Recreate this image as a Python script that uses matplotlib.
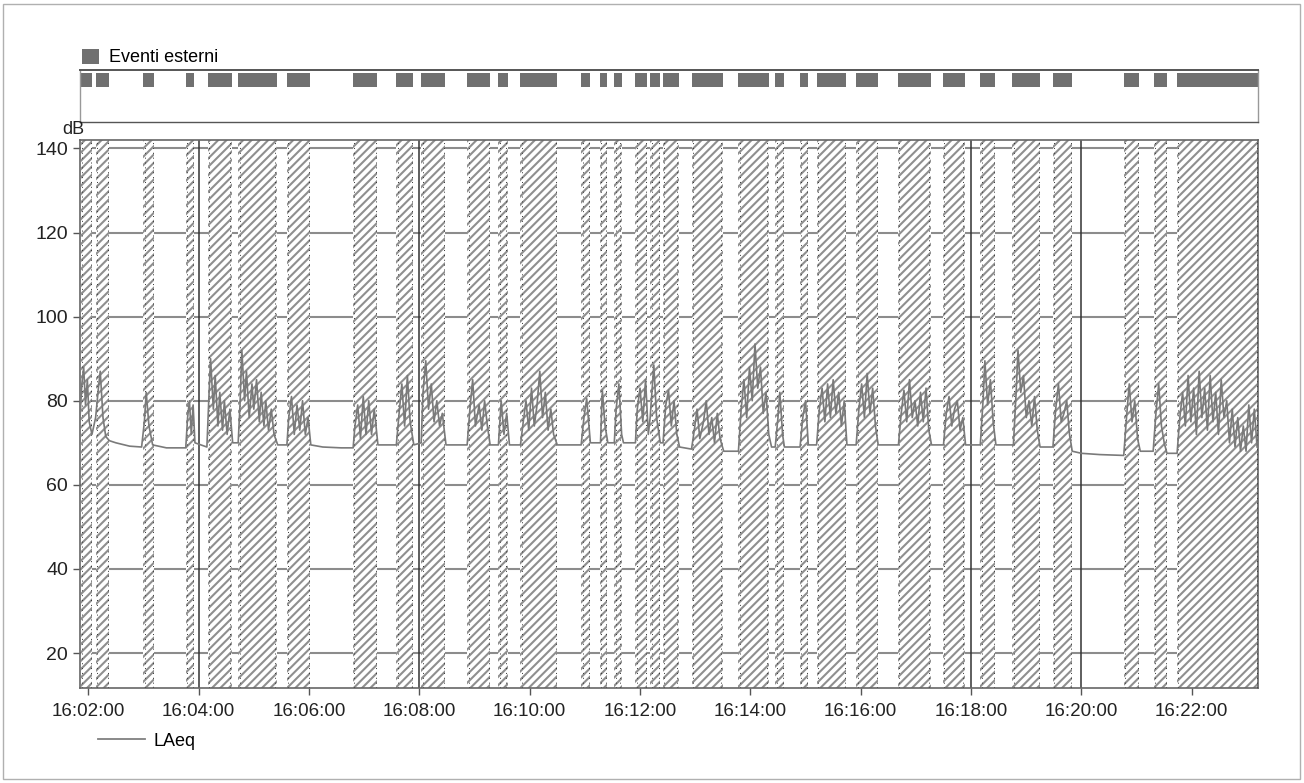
"""
LAeq time history with external events (Eventi esterni)
"""

import matplotlib
matplotlib.use("Agg")
import matplotlib.pyplot as plt
from matplotlib.patches import Patch, Rectangle
from matplotlib.lines import Line2D
from matplotlib.ticker import FuncFormatter

plt.rcParams['font.family'] = ['Liberation Sans', 'DejaVu Sans']
plt.rcParams['hatch.linewidth'] = 1.5

# seconds after 16:00:00
ev_start = [112, 128, 180, 226, 250, 283, 336, 408, 455, 482, 532, 566, 590, 656,
            676, 692, 715, 731, 745, 776, 827, 867, 894, 912, 955, 1000, 1049, 1090,
            1125, 1169, 1246, 1279, 1304]
ev_end = [124, 143, 192, 235, 276, 325, 361, 434, 473, 508, 557, 576, 630, 666,
          684, 700, 728, 742, 762, 810, 860, 877, 903, 944, 979, 1036, 1073, 1106,
          1155, 1190, 1263, 1293, 1392]

t_sec = [111, 113, 115, 117, 119, 121, 124, 128, 131, 133, 136, 139, 143, 150, 165,
         178, 181, 183, 186, 190, 205, 226, 228, 230, 232, 234, 236, 249, 251, 253,
         256, 258, 261, 263, 266, 268, 271, 274, 277, 283, 285, 287, 290, 292, 295,
         298, 300, 303, 306, 308, 311, 313, 316, 319, 322, 326, 336, 338, 341, 344,
         347, 350, 353, 356, 359, 362, 375, 395, 408, 410, 413, 416, 419, 422, 425,
         428, 431, 435, 455, 458, 461, 464, 467, 470, 474, 482, 484, 487, 490, 493,
         496, 499, 502, 505, 509, 532, 535, 538, 541, 545, 548, 551, 554, 557, 566,
         569, 572, 575, 578, 590, 593, 596, 599, 602, 605, 608, 611, 614, 617, 620,
         623, 626, 630, 656, 659, 662, 666, 677, 679, 682, 685, 692, 694, 697, 700,
         702, 715, 717, 720, 723, 726, 729, 731, 735, 738, 742, 745, 748, 751, 754,
         757, 760, 763, 776, 779, 782, 785, 789, 792, 795, 798, 801, 804, 807, 811,
         827, 830, 833, 836, 839, 842, 845, 848, 851, 854, 857, 860, 863, 867, 870,
         872, 875, 877, 894, 897, 900, 903, 912, 915, 918, 921, 924, 927, 930, 933,
         936, 939, 942, 945, 955, 958, 961, 964, 967, 970, 973, 976, 979, 1001, 1004,
         1007, 1010, 1013, 1016, 1019, 1022, 1025, 1028, 1031, 1034, 1037, 1050, 1053,
         1056, 1059, 1062, 1065, 1068, 1071, 1074, 1090, 1093, 1095, 1098, 1101, 1104,
         1107, 1126, 1129, 1131, 1134, 1137, 1140, 1143, 1146, 1149, 1152, 1155, 1169,
         1172, 1175, 1178, 1181, 1184, 1187, 1190, 1200, 1220, 1246, 1249, 1252, 1255,
         1258, 1261, 1264, 1278, 1281, 1284, 1287, 1290, 1293, 1304, 1307, 1310, 1313,
         1316, 1319, 1322, 1325, 1328, 1331, 1334, 1337, 1340, 1343, 1346, 1349, 1352,
         1355, 1358, 1361, 1364, 1367, 1370, 1373, 1376, 1379, 1382, 1385, 1388, 1391]
laeq = [76, 84, 88, 79, 85, 75, 72, 76, 83, 87, 76, 71.5, 70.5, 70, 69.2,
        69, 75, 82, 74, 69.5, 68.8, 68.8, 76, 80, 72, 79, 70, 69, 80, 90,
        78, 86, 74, 82, 73, 80, 72, 78, 70, 70, 79, 92, 80, 87, 76,
        84, 78, 85, 75, 82, 74, 80, 73, 78, 72, 69.5, 69.5, 76, 81, 72,
        79, 73, 80, 72, 76, 69.5, 69, 68.8, 68.8, 74, 79, 71, 81, 72, 80,
        72, 78, 69.5, 69.5, 77, 84, 74, 86, 75, 69.5, 70, 82, 89.5, 78, 84,
        75, 80, 74, 77, 69.5, 69.5, 78, 85, 74, 79, 73, 80, 74, 69.5, 69.5,
        80, 72, 77, 69.5, 69.5, 75, 80, 73, 83, 74, 79, 87, 76, 82, 73,
        78, 72, 69.5, 69.5, 76, 80.5, 70, 70, 82.5, 74, 70, 70, 78, 84, 72,
        70, 70, 78, 83, 75, 85, 72, 76, 88.5, 76, 70, 70, 79, 82.5, 74,
        80, 72, 69, 68.5, 73, 78, 71, 75, 80, 72, 76, 70, 77, 71, 68,
        68, 78, 85, 76, 88, 80, 93.5, 83, 88, 77, 82, 72, 69, 69, 76,
        82, 72, 69, 69, 76, 80, 69.5, 69.5, 78, 83, 75, 84, 76, 85, 77,
        82, 74, 80, 69.5, 69.5, 78, 84, 76, 86.5, 77, 83, 74, 69.5, 69.5, 77,
        82.5, 75, 85, 76, 80, 74, 82, 75, 83, 73, 69.5, 69.5, 77,
        81, 74, 78, 80, 73, 76, 69.5, 69.5, 80, 89.5, 79, 85, 75,
        69.5, 69.5, 82, 92, 82, 86, 76, 80, 74, 81, 73, 69, 69,
        78, 84, 75, 77, 80, 72, 68, 67.5, 67.2, 67, 76, 84, 75,
        80, 71, 68, 68, 77, 84, 74, 70, 67.5, 67.5, 76, 82, 74,
        86, 75, 83, 72, 87, 76, 83, 73, 86, 75, 82, 72, 85,
        76, 80, 70, 78, 69, 76, 68, 74, 68, 79, 70, 78, 69]

x_ticks = [120, 240, 360, 480, 600, 720, 840, 960, 1080, 1200, 1320]
y_ticks = [20, 40, 60, 80, 100, 120, 140]

W, H = 1304, 783
fig = plt.figure(figsize=(W / 100, H / 100), dpi=100)

# outer frame
fig.patches.append(Rectangle((3 / W, 4 / H), 1 - 7 / W, 1 - 8 / H, transform=fig.transFigure,
                             fill=False, edgecolor='#b0b0b0', linewidth=1))

# events strip
ax_ev = fig.add_axes([80 / W, 1 - 122 / H, 1178 / W, 52 / H])
ax_ev.broken_barh([(s, e - s) for s, e in zip(ev_start, ev_end)], (0.67, 0.27),
                  facecolor='#707070', edgecolor='none')
ax_ev.set_xlim(111, 1392)
ax_ev.set_ylim(0, 1)
ax_ev.set_xticks([])
ax_ev.set_yticks([])
for side, sp in ax_ev.spines.items():
    sp.set_color('#555555' if side in ('top', 'bottom') else '#999999')
    sp.set_linewidth(1.4 if side == 'top' else 1)
ax_ev.legend(handles=[Patch(facecolor='#707070', edgecolor='none', label='Eventi esterni')],
             loc='lower left', bbox_to_anchor=(0.002, 1.07), frameon=False, borderaxespad=0,
             borderpad=0, handlelength=0.9, handleheight=0.9, handletextpad=0.6,
             fontsize=13)

# main axes
ax = fig.add_axes([80 / W, 1 - 688 / H, 1178 / W, 548 / H])
ax.set_xlim(111, 1392)
ax.set_ylim(11.7, 142)

for y in y_ticks:
    ax.axhline(y, color='#8c8c8c', linewidth=1.5, zorder=1)
for x in x_ticks:
    ax.axvline(x, color='#333333', linewidth=1.1, zorder=1)

for s, e in zip(ev_start, ev_end):
    ax.axvspan(s, e, facecolor='white', edgecolor='#8f8f8f', linewidth=0,
               hatch='////', zorder=2)
    ax.axvline(s + 1.5, color='#333333', linestyle=(0, (1, 4)), linewidth=0.7, zorder=3)
    ax.axvline(e - 1.5, color='#333333', linestyle=(0, (1, 4)), linewidth=0.7, zorder=3)

ax.plot(t_sec, laeq, color='#7a7a7a', linewidth=1.2, zorder=4)

ax.set_xticks(x_ticks)
ax.set_yticks(y_ticks)
ax.xaxis.set_major_formatter(FuncFormatter(lambda v, p: '16:%02d:%02d' % (v // 60, v % 60)))
ax.tick_params(axis='both', direction='out', length=5, width=1, color='#555555',
               labelsize=13.5, labelcolor='#222222')
ax.tick_params(axis='x', pad=6)
ax.tick_params(axis='y', labelsize=14)
for sp in ax.spines.values():
    sp.set_color('#666666')
    sp.set_linewidth(1.2)

fig.text(73 / W, 1 - 129 / H, 'dB', fontsize=13, color='#222222', ha='center', va='center')

fig.legend(handles=[Line2D([], [], color='#808080', linewidth=1.3, label='LAeq')],
           loc='center left', bbox_to_anchor=(98 / W, 1 - 741 / H), frameon=False,
           handlelength=2.6, handletextpad=0.5, fontsize=13, borderaxespad=0, borderpad=0)

fig.savefig('out.png', dpi=100, facecolor='white')
